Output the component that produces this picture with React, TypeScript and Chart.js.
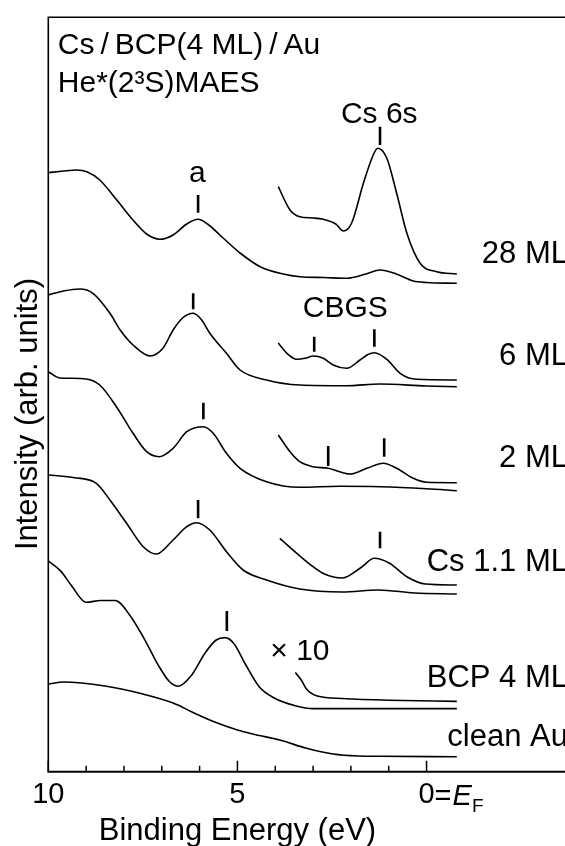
import React, { useEffect, useRef } from 'react';
import { Chart, registerables } from 'chart.js';

Chart.register(...registerables);

const W = 565;
const H = 846;
const FONT = '"Liberation Sans", Arial, Helvetica, sans-serif';

// ---- axes ----
const X_MIN = -3.66;
const X_MAX = 10;
const Y_MIN = 0;
const Y_MAX = 754.4;
const xTickLabelValues = [10, 5, 0];
const xMinorTickValues = [9, 8, 7, 6, 4, 3, 2, 1];
const xAxisTitle = 'Binding Energy (eV)';
const yAxisTitle = 'Intensity (arb. units)';
const titleLines = ['Cs\u2009/\u2009BCP(4 ML)\u2009/\u2009Au', 'He*(2\u00B3S)MAES'];

// ---- spectra (binding energy eV, intensity arb. units) ----
const s28E = [10, 9.6, 9.25, 8.98, 8.64, 8.19, 7.76, 7.4, 7.05, 6.7, 6.34, 6.04, 5.79, 5.38, 4.93, 4.4, 3.79, 3.35, 2.7, 2.11, 1.6, 1.23, 0.8, 0.35, 0, -0.8];
const s28I = [599.0, 600.7, 601.7, 600.0, 591.7, 571.7, 551.7, 537.7, 532.4, 536.7, 547.7, 552.4, 547.7, 533.7, 518.7, 505.0, 497.7, 495.0, 494.2, 493.4, 497.7, 501.7, 497.7, 490.7, 489.2, 488.4];
const s28x10E = [3.92, 3.61, 3.35, 3.0, 2.73, 2.4, 2.2, 1.98, 1.67, 1.41, 1.29, 1.05, 0.79, 0.52, 0.17, -0.27, -0.8];
const s28x10I = [585.0, 561.7, 555.0, 553.7, 552.4, 547.7, 540.7, 548.7, 588.4, 616.7, 623.4, 613.4, 578.4, 538.4, 508.4, 500.0, 497.7];

const s6E = [10, 9.6, 9.17, 8.82, 8.37, 8.1, 7.76, 7.31, 6.97, 6.7, 6.45, 6.17, 5.95, 5.73, 5.29, 4.93, 4.23, 3.35, 2.11, 1.23, 0, -0.8];
const s6I = [476.7, 480.7, 482.7, 478.4, 458.4, 441.7, 426.7, 415.7, 423.4, 441.7, 453.7, 458.4, 452.0, 438.4, 418.4, 401.7, 391.7, 386.7, 386.0, 387.7, 385.7, 385.0];
const s6x10E = [3.92, 3.7, 3.43, 3.21, 2.99, 2.73, 2.47, 2.11, 1.76, 1.55, 1.38, 1.05, 0.7, 0.26, -0.8];
const s6x10I = [428.7, 418.7, 412.4, 413.4, 415.7, 413.4, 406.7, 403.4, 411.7, 417.2, 419.0, 412.4, 398.4, 392.4, 391.7];

const s2E = [10, 9.7, 9.4, 9.0, 8.64, 8.2, 7.76, 7.4, 7.07, 6.7, 6.34, 5.9, 5.64, 5.29, 4.93, 4.23, 3.35, 2.3, 1.23, 0, -0.8];
const s2I = [400.0, 393.7, 393.4, 392.7, 386.7, 365.0, 338.4, 320.0, 315.0, 323.4, 340.0, 345.0, 338.4, 318.4, 303.4, 290.0, 284.4, 285.4, 285.0, 283.0, 281.0];
const s2x10E = [3.92, 3.61, 3.35, 3.0, 2.6, 2.02, 1.58, 1.14, 0.79, 0.35, 0, -0.8];
const s2x10I = [336.7, 320.0, 310.0, 305.0, 303.4, 297.7, 303.4, 308.4, 303.4, 293.4, 289.4, 289.0];

const s1E = [10, 9.3, 8.73, 8.37, 7.93, 7.49, 7.14, 6.7, 6.34, 6.08, 5.73, 5.29, 4.85, 4.23, 3.35, 2.23, 1.27, 0.32, -0.8];
const s1I = [296.7, 294.0, 288.4, 271.7, 248.4, 225.0, 217.7, 231.7, 245.0, 249.0, 241.7, 220.0, 201.7, 191.7, 182.7, 179.7, 181.7, 178.7, 177.7];
const s1x10E = [3.88, 3.43, 3.0, 2.7, 2.23, 1.75, 1.38, 0.99, 0.51, 0.03, -0.8];
const s1x10I = [233.4, 218.4, 205.0, 197.7, 193.7, 203.7, 213.4, 208.7, 194.7, 187.7, 186.7];

const bcpE = [10, 9.66, 9.38, 9.0, 8.61, 8.23, 7.85, 7.47, 7.09, 6.8, 6.56, 6.23, 5.85, 5.56, 5.33, 5.09, 4.8, 4.42, 4.04, 3.47, 2.99, 1.0, -0.8];
const bcpI = [210.9, 200.1, 185.7, 169.4, 171.2, 171.2, 156.8, 133.4, 106.4, 90.2, 85.5, 95.6, 119.0, 131.7, 134.1, 128.0, 108.2, 84.7, 74.0, 66.0, 63.1, 63.1, 63.1];
const bcpx10E = [3.47, 3.3, 3.18, 2.89, 2.23, 1.0, -0.8];
const bcpx10I = [99.2, 91.0, 83.0, 75.7, 73.2, 71.5, 70.3];

const auE = [10, 9.6, 8.5, 7.5, 6.7, 6.2, 5.6, 5.0, 4.6, 3.88, 3.17, 2.47, 1.8, 1.23, -0.8];
const auI = [87.7, 89.7, 85.7, 77.7, 68.7, 59.7, 49.7, 41.7, 37.7, 31.7, 23.4, 17.7, 15.7, 15.4, 15.0];

// ---- peak markers (E, lower end, upper end) ----
const peakMarkerE = [6.04, 1.23, 6.17, 2.97, 1.38, 5.9, 2.6, 1.12, 6.04, 1.23, 5.28];
const peakMarkerLow = [559, 626.7, 462.4, 420, 425, 352.4, 305.7, 315, 253.4, 223.4, 140.7];
const peakMarkerHigh = [576.7, 645, 478.4, 435, 442.4, 369, 325.7, 333.4, 271.7, 240, 160.7];

// ---- in-plot annotations ----
const annotTexts = ['a', 'Cs 6s', 'CBGS', '\u00D7\u2009\u200A10'];
const annotE = [6.06, 1.25, 2.15, 3.35];
const annotI = [590, 648.4, 454.7, 111.7];

// ---- sample labels at right ----
const sampleLabels = ['28 ML', '6 ML', '2 ML', 'Cs 1.1 ML', 'BCP 4 ML', 'clean Au'];
const sampleLabelI = [508.4, 406.7, 305, 200.7, 84.7, 25.7];

const seriesList = [
  { name: '28 ML', e: s28E, i: s28I },
  { name: '28 ML x10', e: s28x10E, i: s28x10I },
  { name: '6 ML', e: s6E, i: s6I },
  { name: '6 ML x10', e: s6x10E, i: s6x10I },
  { name: '2 ML', e: s2E, i: s2I },
  { name: '2 ML x10', e: s2x10E, i: s2x10I },
  { name: 'Cs 1.1 ML', e: s1E, i: s1I },
  { name: 'Cs 1.1 ML x10', e: s1x10E, i: s1x10I },
  { name: 'BCP 4 ML', e: bcpE, i: bcpI },
  { name: 'BCP 4 ML x10', e: bcpx10E, i: bcpx10I },
  { name: 'clean Au', e: auE, i: auI },
];

const decorPlugin = {
  id: 'decor',
  afterDraw(chart: any) {
    const { ctx, chartArea } = chart;
    const xs = chart.scales.x;
    const ys = chart.scales.y;
    const L = chartArea.left;
    const T = chartArea.top;
    const R = chart.width;
    const B = chartArea.bottom;
    ctx.save();
    ctx.strokeStyle = '#000';
    ctx.fillStyle = '#000';
    ctx.lineCap = 'butt';

    // frame
    ctx.lineWidth = 1.6;
    ctx.beginPath();
    ctx.moveTo(L, B);
    ctx.lineTo(L, T);
    ctx.lineTo(R + 5, T);
    ctx.stroke();
    ctx.lineWidth = 2;
    ctx.beginPath();
    ctx.moveTo(L - 0.8, B);
    ctx.lineTo(R + 5, B);
    ctx.stroke();

    // inward ticks
    ctx.lineWidth = 1.5;
    ctx.beginPath();
    for (const v of xTickLabelValues) {
      const px = xs.getPixelForValue(v);
      ctx.moveTo(px, B);
      ctx.lineTo(px, B - 11);
    }
    for (const v of xMinorTickValues) {
      const px = xs.getPixelForValue(v);
      ctx.moveTo(px, B);
      ctx.lineTo(px, B - 6);
    }
    ctx.stroke();

    // peak markers
    ctx.lineWidth = 2.6;
    ctx.beginPath();
    peakMarkerE.forEach((e, k) => {
      const px = xs.getPixelForValue(e);
      ctx.moveTo(px, ys.getPixelForValue(peakMarkerLow[k]));
      ctx.lineTo(px, ys.getPixelForValue(peakMarkerHigh[k]));
    });
    ctx.stroke();

    // annotations
    ctx.font = `30px ${FONT}`;
    ctx.textAlign = 'center';
    ctx.textBaseline = 'alphabetic';
    annotTexts.forEach((t, k) => {
      ctx.fillText(t, xs.getPixelForValue(annotE[k]), ys.getPixelForValue(annotI[k]));
    });

    // sample labels (right aligned at the right edge)
    ctx.font = `31px ${FONT}`;
    ctx.textAlign = 'right';
    sampleLabels.forEach((t, k) => {
      ctx.fillText(t, R + 3, ys.getPixelForValue(sampleLabelI[k]));
    });

    // title lines
    ctx.font = `30px ${FONT}`;
    ctx.textAlign = 'left';
    ctx.fillText(titleLines[0], L + 9.5, T + 37);
    ctx.fillText(titleLines[1], L + 9.5, T + 74.4);

    // "=E_F" after the 0 tick label
    ctx.font = `29px ${FONT}`;
    const w0 = ctx.measureText('0').width;
    let x = xs.getPixelForValue(0) + w0 / 2;
    const base = B + 33.5;
    ctx.fillText('=', x, base);
    x += ctx.measureText('=').width + 1;
    ctx.font = `italic 29px ${FONT}`;
    ctx.fillText('E', x, base);
    x += ctx.measureText('E').width;
    ctx.font = `19px ${FONT}`;
    ctx.fillText('F', x, base + 6.5);

    // axis titles
    ctx.font = `31px ${FONT}`;
    ctx.textAlign = 'center';
    ctx.fillText(xAxisTitle, xs.getPixelForValue(5), B + 68.5);
    ctx.save();
    ctx.translate(L - 11.3, ys.getPixelForValue(357.7));
    ctx.rotate(-Math.PI / 2);
    ctx.fillText(yAxisTitle, 0, 0);
    ctx.restore();

    ctx.restore();
  },
};

export default function App() {
  const ref = useRef<HTMLCanvasElement | null>(null);

  useEffect(() => {
    if (!ref.current) return;
    const datasets = seriesList.map((s) => ({
      label: s.name,
      data: s.e.map((e, k) => ({ x: e, y: s.i[k] })),
      borderColor: '#000',
      backgroundColor: '#000',
      borderWidth: 1.6,
      pointRadius: 0,
      fill: false,
      cubicInterpolationMode: 'monotone' as const,
    }));
    const chart = new Chart(ref.current, {
      type: 'line',
      data: { datasets },
      options: {
        responsive: false,
        maintainAspectRatio: false,
        devicePixelRatio: 1,
        animation: false,
        layout: { padding: { left: 48.3, top: 17.3, right: 0, bottom: 0 } },
        plugins: { legend: { display: false }, tooltip: { enabled: false } },
        scales: {
          x: {
            type: 'linear',
            reverse: true,
            min: X_MIN,
            max: X_MAX,
            grid: { display: false, drawTicks: false },
            border: { display: false },
            afterFit: (scale: any) => {
              scale.height = 74.3;
              scale.paddingLeft = 0;
              scale.paddingRight = 0;
            },
            ticks: {
              stepSize: 1,
              includeBounds: false,
              autoSkip: false,
              maxRotation: 0,
              padding: 6,
              color: '#000',
              font: { family: FONT, size: 29 },
              callback: (v: any) => (xTickLabelValues.includes(Number(v)) ? String(v) : ''),
            },
          },
          y: {
            type: 'linear',
            display: false,
            min: Y_MIN,
            max: Y_MAX,
          },
        },
      },
      plugins: [decorPlugin],
    });
    return () => chart.destroy();
  }, []);

  return (
    <div style={{ position: 'fixed', left: 0, top: 0, width: W, height: H, overflow: 'hidden', background: '#fff' }}>
      <canvas ref={ref} width={W} height={H} style={{ display: 'block', width: W, height: H }} />
    </div>
  );
}
